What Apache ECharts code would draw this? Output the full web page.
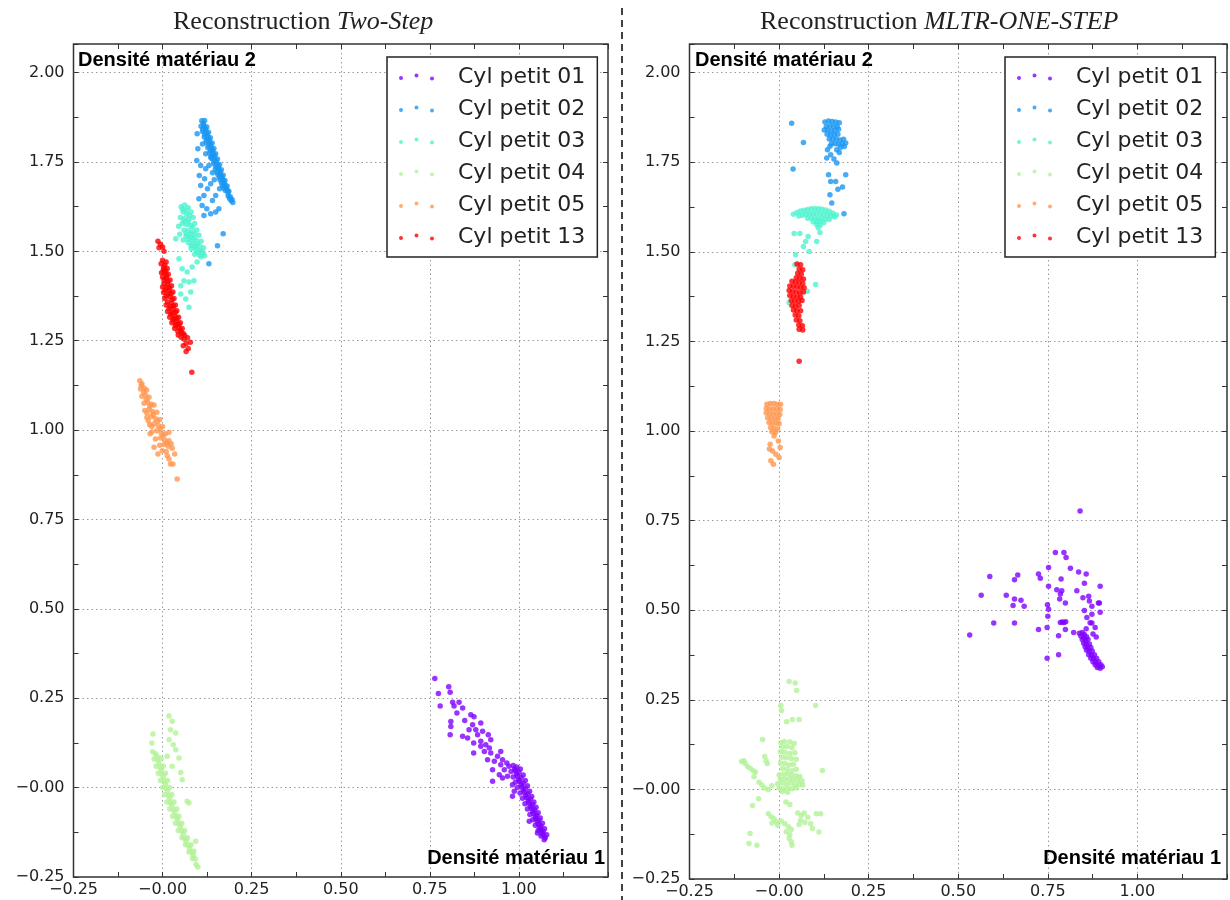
<!DOCTYPE html>
<html><head><meta charset="utf-8">
<script src="https://cdn.jsdelivr.net/npm/echarts@6/dist/echarts.min.js"></script>
<style>html,body{margin:0;padding:0;background:#fff}#c{width:1230px;height:900px}</style>
</head><body><div id="c"></div>
<script>
const seriesNames = ['Cyl petit 01','Cyl petit 02','Cyl petit 03','Cyl petit 04','Cyl petit 05','Cyl petit 13'];
const xTickLabels = ['\u22120.25','\u22120.00','0.25','0.50','0.75','1.00'];
const yTickLabels = ['\u22120.25','\u22120.00','0.25','0.50','0.75','1.00','1.25','1.50','1.75','2.00'];
const panelTitles = [['Reconstruction ','Two-Step'],['Reconstruction ','MLTR-ONE-STEP']];
const axisNames = ['Densité matériau 1','Densité matériau 2'];

// ---- Two-Step panel ----
const twoStep01 = [[0.764,0.305],[0.803,0.282],[0.774,0.263],[0.807,0.267],[0.779,0.228],[0.814,0.239],[0.832,0.239],[0.818,0.228],[0.842,0.223],[0.826,0.209],[0.865,0.204],[0.874,0.198],[0.848,0.188],[0.809,0.185],[0.809,0.171],[0.870,0.176],[0.893,0.181],[0.860,0.162],[0.879,0.162],[0.898,0.158],[0.842,0.144],[0.856,0.139],[0.807,0.148],[0.884,0.148],[0.914,0.148],[0.893,0.130],[0.921,0.134],[0.873,0.125],[0.907,0.120],[0.917,0.111],[0.893,0.116],[0.873,0.097],[0.903,0.101],[0.921,0.097],[0.949,0.101],[0.940,0.088],[0.912,0.078],[0.931,0.074],[0.954,0.078],[0.966,0.069],[0.949,0.064],[0.926,0.050],[0.959,0.050],[0.945,0.036],[0.968,0.032],[0.954,0.027],[0.926,0.018],[0.982,0.008],[0.987,-0.010],[0.982,-0.024],[1.029,-0.094],[1.052,-0.127],[1.071,-0.146],
 [0.972,0.060],[0.984,0.062],[0.994,0.058],[0.978,0.045],[0.990,0.047],[1.000,0.043],[0.984,0.030],[0.996,0.032],[1.006,0.028],[0.990,0.015],[1.002,0.017],[1.012,0.013],[0.996,0.000],[1.008,0.002],[1.018,-0.002],[1.003,-0.015],[1.015,-0.013],[1.025,-0.017],[1.010,-0.030],[1.022,-0.028],[1.032,-0.032],[1.017,-0.045],[1.028,-0.043],[1.038,-0.047],[1.024,-0.060],[1.035,-0.058],[1.044,-0.062],[1.031,-0.075],[1.041,-0.073],[1.050,-0.077],[1.039,-0.090],[1.048,-0.088],[1.056,-0.092],[1.046,-0.105],[1.055,-0.103],[1.062,-0.107],[1.054,-0.120],[1.062,-0.118],[1.068,-0.122],[1.062,-0.135],[1.069,-0.133],[1.074,-0.140],
 [0.988,0.052],[0.993,0.038],[0.999,0.022],[1.006,0.008],[1.012,-0.007],[1.019,-0.022],[1.026,-0.037],[1.032,-0.052],[1.039,-0.067],[1.046,-0.082],[1.052,-0.097],[1.058,-0.112],[1.065,-0.127],
 [1.004,0.052],[1.012,0.035],[1.018,0.020],[1.024,0.005],[1.030,-0.010],[1.036,-0.025],[1.042,-0.040],[1.048,-0.055],[1.054,-0.070],[1.060,-0.085],[1.066,-0.100],[1.072,-0.115],[1.078,-0.132]];
const twoStep02 = [[0.110,1.865],[0.118,1.866],[0.108,1.850],[0.116,1.852],[0.124,1.848],[0.112,1.835],[0.121,1.836],[0.129,1.833],[0.117,1.820],[0.126,1.821],[0.134,1.818],[0.122,1.805],[0.131,1.806],[0.139,1.803],[0.127,1.790],[0.136,1.791],[0.144,1.788],[0.132,1.775],[0.141,1.776],[0.149,1.773],[0.137,1.760],[0.146,1.761],[0.154,1.758],[0.143,1.745],[0.152,1.746],[0.160,1.743],[0.148,1.730],[0.157,1.731],[0.165,1.728],[0.155,1.715],[0.163,1.716],[0.170,1.713],[0.161,1.700],[0.169,1.701],[0.175,1.698],[0.168,1.685],[0.175,1.686],[0.181,1.683],[0.176,1.670],[0.182,1.671],[0.186,1.668],[0.184,1.655],[0.190,1.653],[0.192,1.642],[0.197,1.637],
 [0.114,1.858],[0.120,1.843],[0.125,1.828],[0.130,1.813],[0.135,1.798],[0.140,1.783],[0.145,1.768],[0.150,1.753],[0.156,1.738],[0.161,1.723],[0.166,1.708],[0.172,1.693],[0.178,1.678],[0.184,1.663],[0.188,1.648],[0.195,1.645],
 [0.113,1.842],[0.118,1.827],[0.123,1.812],[0.128,1.797],[0.134,1.782],[0.139,1.767],[0.144,1.752],[0.150,1.737],[0.153,1.722],[0.159,1.707],[0.165,1.692],[0.171,1.677],
 [0.097,1.829],[0.099,1.787],[0.096,1.754],[0.103,1.712],[0.107,1.684],[0.102,1.647],[0.116,1.656],[0.111,1.628],[0.124,1.619],[0.135,1.605],[0.149,1.610],[0.158,1.619],[0.116,1.600],[0.170,1.549],[0.154,1.516],[0.130,1.465],[0.140,1.642],[0.126,1.675],[0.118,1.703],[0.135,1.689],[0.149,1.656],[0.121,1.731],[0.130,1.740],[0.107,1.740],[0.121,1.773],[0.135,1.764],[0.112,1.800],[0.145,1.700],[0.160,1.675],[0.140,1.720]];
const twoStep03 = [[0.052,1.625],[0.062,1.630],[0.072,1.622],[0.058,1.610],[0.068,1.605],[0.080,1.610],[0.050,1.595],[0.062,1.592],[0.074,1.590],[0.086,1.595],[0.055,1.578],[0.067,1.575],[0.079,1.572],[0.090,1.578],[0.060,1.560],[0.072,1.558],[0.084,1.555],[0.096,1.560],[0.066,1.542],[0.078,1.540],[0.090,1.538],[0.102,1.545],[0.072,1.525],[0.085,1.522],[0.097,1.520],[0.108,1.528],[0.080,1.508],[0.092,1.505],[0.104,1.503],[0.115,1.510],[0.090,1.492],[0.103,1.490],[0.114,1.495],[0.045,1.570],[0.048,1.548],[0.058,1.532],[0.118,1.488],
 [0.056,1.618],[0.066,1.616],[0.076,1.600],[0.060,1.585],[0.072,1.582],[0.084,1.568],[0.066,1.550],[0.078,1.548],[0.090,1.548],[0.072,1.534],[0.084,1.532],[0.096,1.530],[0.080,1.516],[0.092,1.514],[0.104,1.515],[0.110,1.500],[0.097,1.497],[0.108,1.485],
 [0.037,1.535],[0.046,1.479],[0.055,1.451],[0.069,1.442],[0.083,1.456],[0.097,1.470],[0.088,1.418],[0.074,1.414],[0.060,1.418],[0.051,1.381],[0.079,1.386],[0.051,1.404],[0.065,1.367],[0.074,1.344]];
const twoStep04 = [[-0.028,0.100],[-0.020,0.095],[-0.024,0.080],[-0.014,0.078],[-0.004,0.082],[-0.018,0.060],[-0.008,0.058],[0.002,0.060],[-0.012,0.040],[-0.002,0.038],[0.008,0.040],[-0.006,0.020],[0.004,0.018],[0.014,0.020],[0.000,0.000],[0.010,-0.002],[0.020,0.000],[0.006,-0.020],[0.016,-0.022],[0.026,-0.020],[0.012,-0.040],[0.022,-0.042],[0.032,-0.040],[0.020,-0.060],[0.030,-0.062],[0.040,-0.060],[0.028,-0.080],[0.038,-0.082],[0.046,-0.080],[0.036,-0.100],[0.046,-0.102],[0.054,-0.100],[0.044,-0.120],[0.054,-0.122],[0.062,-0.120],[0.054,-0.140],[0.063,-0.142],[0.070,-0.140],[0.064,-0.160],[0.073,-0.162],[0.080,-0.160],[0.074,-0.180],[0.083,-0.182],[0.088,-0.178],[0.084,-0.198],[0.092,-0.200],[0.094,-0.215],[0.099,-0.222],
 [-0.016,0.088],[-0.010,0.068],[-0.004,0.050],[0.002,0.030],[0.008,0.010],[0.014,-0.010],[0.020,-0.030],[0.026,-0.050],[0.034,-0.070],[0.042,-0.090],[0.050,-0.110],[0.058,-0.130],[0.066,-0.150],[0.076,-0.170],[0.086,-0.190],
 [-0.027,0.150],[0.018,0.200],[0.027,0.186],[0.022,0.162],[0.037,0.153],[0.018,0.134],[0.037,0.106],[0.013,0.088],[0.046,0.083],[0.027,0.060],[0.055,0.022],[0.069,-0.038],[0.074,-0.043],[0.093,-0.150],[0.051,0.042],[-0.030,0.125],[0.030,0.120]];
const twoStep05 = [[-0.064,1.138],[-0.058,1.130],[-0.062,1.115],[-0.052,1.118],[-0.045,1.112],[-0.058,1.095],[-0.048,1.098],[-0.038,1.092],[-0.052,1.075],[-0.042,1.078],[-0.032,1.072],[-0.024,1.070],[-0.050,1.055],[-0.038,1.058],[-0.028,1.052],[-0.016,1.050],[-0.044,1.035],[-0.032,1.038],[-0.020,1.032],[-0.008,1.030],[-0.036,1.015],[-0.024,1.018],[-0.012,1.012],[0.000,1.010],[-0.030,0.995],[-0.016,0.998],[-0.004,0.992],[0.008,0.990],[0.018,0.994],[-0.020,0.975],[-0.006,0.978],[0.006,0.972],[0.018,0.970],[-0.008,0.958],[0.004,0.960],[0.016,0.955],[0.024,0.962],
 [-0.060,1.125],[-0.053,1.106],[-0.046,1.086],[-0.036,1.066],[-0.026,1.044],[-0.014,1.025],[-0.006,1.004],[0.002,0.984],[0.012,0.964],[-0.044,1.048],[-0.040,1.026],
 [-0.024,0.952],[-0.013,0.933],[-0.001,0.942],[0.013,0.928],[0.027,0.949],[0.034,0.933],[0.018,0.919],[0.022,0.905],[0.029,0.905],[0.041,0.863],[-0.035,0.990],[-0.030,1.010],[0.010,0.940]];
const twoStep13 = [[-0.013,1.528],[-0.006,1.520],[0.000,1.512],[-0.010,1.510],[0.004,1.500],
 [0.000,1.475],[0.010,1.470],[0.003,1.455],[0.013,1.452],[0.005,1.440],[0.016,1.436],[0.000,1.428],[0.010,1.425],[0.021,1.420],[0.004,1.410],[0.014,1.408],[0.025,1.404],[0.007,1.392],[0.018,1.390],[0.029,1.386],[0.010,1.375],[0.021,1.372],[0.032,1.368],[0.014,1.358],[0.025,1.355],[0.036,1.350],[0.018,1.340],[0.029,1.338],[0.040,1.334],[0.023,1.324],[0.034,1.320],[0.045,1.316],[0.029,1.308],[0.040,1.304],[0.050,1.300],[0.036,1.292],[0.046,1.288],[0.055,1.284],[0.043,1.276],[0.053,1.272],[0.062,1.265],
 [0.006,1.462],[0.009,1.446],[0.011,1.432],[0.015,1.416],[0.020,1.398],[0.024,1.382],[0.027,1.365],[0.031,1.347],[0.036,1.330],[0.040,1.313],[0.046,1.296],[0.050,1.281],[0.058,1.270],
 [-0.004,1.465],[0.002,1.448],[-0.003,1.440],[0.004,1.420],[0.000,1.400],[0.011,1.398],[0.003,1.385],[0.016,1.381],[0.006,1.368],[0.010,1.350],[0.022,1.346],[0.014,1.332],[0.026,1.328],[0.020,1.316],[0.032,1.312],[0.026,1.300],[0.038,1.296],[0.034,1.284],[0.044,1.266],[0.052,1.260],
 [0.060,1.255],[0.070,1.258],[0.066,1.242],[0.078,1.246],[0.058,1.236],[0.072,1.228],[0.066,1.220],[0.082,1.162]];

// ---- MLTR-ONE-STEP panel ----
const oneStep01 = [[0.840,0.777],[0.771,0.661],[0.795,0.661],[0.801,0.647],[0.752,0.619],[0.813,0.617],[0.836,0.607],[0.857,0.601],[0.724,0.601],[0.588,0.594],[0.666,0.598],[0.729,0.589],[0.657,0.585],[0.787,0.587],[0.852,0.575],[0.896,0.567],[0.752,0.567],[0.775,0.557],[0.789,0.554],[0.831,0.554],[0.564,0.542],[0.634,0.542],[0.785,0.545],[0.864,0.539],[0.848,0.535],[0.657,0.531],[0.675,0.528],[0.783,0.531],[0.866,0.526],[0.799,0.520],[0.891,0.520],[0.653,0.513],[0.684,0.511],[0.749,0.515],[0.873,0.511],[0.852,0.499],[0.752,0.503],[0.896,0.494],[0.873,0.489],[0.750,0.483],[0.859,0.480],[0.599,0.464],[0.657,0.464],[0.785,0.466],[0.790,0.467],[0.795,0.466],[0.800,0.468],[0.873,0.464],[0.882,0.452],[0.724,0.446],[0.748,0.452],[0.799,0.446],[0.857,0.448],[0.532,0.431],[0.780,0.429],[0.822,0.438],[0.876,0.434],[0.780,0.376],[0.748,0.366],[0.894,0.520],[0.868,0.465],[0.885,0.425],
 [0.838,0.436],[0.846,0.438],[0.852,0.432],[0.842,0.428],[0.850,0.424],[0.858,0.426],[0.846,0.418],[0.855,0.414],[0.862,0.418],[0.850,0.408],[0.858,0.404],[0.866,0.406],[0.854,0.398],[0.862,0.394],[0.870,0.396],[0.858,0.388],[0.866,0.384],[0.874,0.386],[0.864,0.376],[0.872,0.374],[0.880,0.376],[0.870,0.366],[0.878,0.364],[0.886,0.366],[0.876,0.356],[0.884,0.354],[0.892,0.356],[0.882,0.348],[0.890,0.346],[0.898,0.348],[0.888,0.340],[0.896,0.338],[0.902,0.342]];
const oneStep02 = [[0.128,1.862],[0.138,1.865],[0.148,1.864],[0.158,1.862],[0.168,1.860],[0.132,1.850],[0.142,1.852],[0.152,1.850],[0.162,1.850],[0.126,1.840],[0.136,1.840],[0.146,1.838],[0.156,1.838],[0.166,1.842],[0.134,1.828],[0.144,1.826],[0.154,1.826],[0.164,1.828],[0.140,1.815],[0.150,1.814],[0.160,1.814],[0.170,1.812],[0.180,1.814],[0.146,1.802],[0.156,1.802],[0.166,1.800],[0.176,1.802],[0.186,1.804],[0.172,1.792],[0.182,1.794],[0.142,1.795],
 [0.035,1.859],[0.068,1.805],[0.039,1.731],[0.138,1.715],[0.186,1.715],[0.144,1.696],[0.158,1.696],[0.177,1.681],[0.164,1.675],[0.142,1.659],[0.147,1.636],[0.181,1.606],[0.135,1.785],[0.144,1.771],[0.161,1.785],[0.168,1.777],[0.153,1.759],[0.161,1.748],[0.133,1.762]];
const oneStep03 = [[0.040,1.605],[0.050,1.610],[0.060,1.614],[0.070,1.616],[0.080,1.618],[0.090,1.620],[0.100,1.620],[0.110,1.620],[0.120,1.619],[0.130,1.617],[0.140,1.613],[0.150,1.608],[0.160,1.603],[0.055,1.600],[0.065,1.602],[0.075,1.604],[0.085,1.606],[0.095,1.607],[0.105,1.608],[0.115,1.607],[0.125,1.605],[0.135,1.603],[0.145,1.600],[0.155,1.597],[0.080,1.594],[0.090,1.594],[0.100,1.595],[0.110,1.594],[0.120,1.594],[0.130,1.592],[0.140,1.590],[0.095,1.584],[0.105,1.585],[0.115,1.584],[0.125,1.582],[0.105,1.576],[0.115,1.575],
 [0.042,1.551],[0.058,1.551],[0.081,1.543],[0.074,1.529],[0.109,1.567],[0.114,1.554],[0.105,1.529],[0.068,1.515],[0.084,1.501],[0.046,1.492],[0.044,1.464],[0.102,1.409],[0.079,1.390],[0.028,1.358]];
const oneStep04 = [[0.028,0.301],[0.045,0.297],[0.049,0.276],[0.005,0.234],[0.007,0.220],[0.102,0.234],[0.021,0.189],[0.037,0.195],[0.056,0.195],[-0.046,0.139],
 [0.005,0.130],[0.015,0.134],[0.030,0.132],[0.042,0.128],[0.010,0.118],[0.022,0.120],[0.036,0.116],[0.004,0.105],[0.016,0.104],[0.030,0.100],[0.044,0.102],[0.008,0.090],[0.020,0.088],[0.034,0.086],[0.048,0.084],[0.004,0.074],[0.016,0.072],[0.028,0.068],[0.040,0.070],[0.010,0.058],[0.022,0.056],[0.036,0.052],[0.048,0.056],
 [0.000,0.040],[0.012,0.042],[0.024,0.044],[0.036,0.040],[0.048,0.038],[0.058,0.036],[0.004,0.028],[0.016,0.030],[0.028,0.030],[0.040,0.028],[0.052,0.026],[0.064,0.024],[-0.004,0.016],[0.008,0.018],[0.020,0.016],[0.032,0.018],[0.044,0.014],[0.056,0.014],[0.066,0.012],[0.000,0.004],[0.012,0.002],[0.024,0.004],[0.036,0.002],[0.048,0.004],[0.010,-0.006],[0.024,-0.008],
 [-0.105,0.078],[-0.095,0.072],[-0.088,0.064],[-0.080,0.058],[-0.072,0.052],[-0.098,0.080],[-0.066,0.048],[-0.040,0.092],[-0.036,0.080],[-0.033,0.072],[-0.070,0.035],[-0.056,0.020],[-0.048,0.012],[-0.040,0.004],[-0.030,0.000],[-0.020,0.010],
 [0.121,0.053],[-0.057,-0.026],[-0.074,-0.045],[0.019,-0.035],[0.030,-0.042],
 [-0.030,-0.068],[-0.022,-0.076],[-0.014,-0.082],[-0.008,-0.090],[-0.020,-0.094],[-0.004,-0.100],
 [0.006,-0.088],[0.016,-0.096],[0.026,-0.104],[0.034,-0.112],[0.020,-0.118],[0.030,-0.126],[0.028,-0.136],[0.034,-0.146],[0.036,-0.156],
 [0.052,-0.066],[0.062,-0.072],[0.070,-0.066],[0.080,-0.078],[0.060,-0.086],[0.072,-0.092],[0.088,-0.096],[0.056,-0.098],[0.104,-0.068],[0.116,-0.068],[0.093,-0.109],[0.111,-0.119],
 [-0.081,-0.123],[-0.084,-0.151],[-0.062,-0.156]];
const oneStep05 = [[-0.034,1.075],[-0.024,1.077],[-0.014,1.077],[-0.004,1.075],[0.004,1.075],[-0.036,1.063],[-0.026,1.062],[-0.016,1.062],[-0.006,1.062],[0.003,1.060],[-0.036,1.050],[-0.026,1.049],[-0.016,1.048],[-0.006,1.048],[0.002,1.046],[-0.032,1.037],[-0.022,1.036],[-0.012,1.035],[-0.003,1.034],[-0.028,1.024],[-0.018,1.022],[-0.008,1.022],[0.000,1.020],[-0.024,1.010],[-0.014,1.008],[-0.004,1.006],[-0.020,0.998],[-0.010,0.996],
 [-0.014,0.986],[-0.002,0.972],[-0.025,0.963],[0.003,0.954],[-0.018,0.944],[-0.009,0.935],[0.000,0.926],[-0.023,0.917],[-0.016,0.907],[-0.027,0.950]];
const oneStep13 = [[0.050,1.466],[0.060,1.464],[0.056,1.452],[0.066,1.450],[0.052,1.440],[0.062,1.438],[0.048,1.428],[0.058,1.426],[0.068,1.424],[0.036,1.418],[0.046,1.416],[0.056,1.414],[0.066,1.412],[0.030,1.405],[0.040,1.404],[0.050,1.402],[0.060,1.400],[0.070,1.400],[0.028,1.392],[0.038,1.390],[0.048,1.388],[0.058,1.386],[0.068,1.388],[0.030,1.378],[0.040,1.376],[0.050,1.374],[0.060,1.374],[0.034,1.364],[0.044,1.362],[0.054,1.362],[0.064,1.364],[0.036,1.350],[0.046,1.348],[0.056,1.350],[0.040,1.338],[0.050,1.336],[0.060,1.336],[0.045,1.324],[0.055,1.322],[0.048,1.310],[0.058,1.308],[0.055,1.296],[0.065,1.294],[0.056,1.284],[0.066,1.282],[0.056,1.195]];

const colors = ['#8000ff','#1996f3','#4df3ce','#b2f396','#ff964f','#ff0000'];
const panels = [[twoStep01,twoStep02,twoStep03,twoStep04,twoStep05,twoStep13],[oneStep01,oneStep02,oneStep03,oneStep04,oneStep05,oneStep13]];

function tickFmt(labels){
  return function(v){ const k=(v+0.25)/0.25, i=Math.round(k); return (Math.abs(k-i)<1e-6 && labels[i]!==undefined) ? labels[i] : ''; };
}
const gridBoxes = [{left:73.5, top:44, width:534.5, height:833},{left:689.5, top:44, width:537.5, height:836}];
const tickStyle = {color:'#333', width:1};
function makeAxis(kind, g, pos, primary){
  return {
    type:'value', gridIndex:g, position:pos, min:-0.25, max: kind==='x'?1.25:2.08, interval:0.25,
    axisLine:{show:false, onZero:false},
    axisTick:{show:true, inside:true, length:5, lineStyle:tickStyle},
    minorTick:{show:true, splitNumber:2, length:5, lineStyle:tickStyle},
    axisLabel:{show:primary, formatter:tickFmt(kind==='x'?xTickLabels:yTickLabels), color:'#222', fontFamily:'DejaVu Sans', fontSize:16, margin: kind==='x'?5:9, showMaxLabel:false},
    splitLine:{show:primary, showMinLine:false, showMaxLine:false, lineStyle:{color:'#9a9a9a', width:1, type:[1.5,3]}}
  };
}
const xAxes=[], yAxes=[];
[0,1].forEach(g=>{
  xAxes.push(makeAxis('x',g,'bottom',true), makeAxis('x',g,'top',false));
  yAxes.push(makeAxis('y',g,'left',true), makeAxis('y',g,'right',false));
});
const series=[];
panels.forEach((set,g)=>set.forEach((d,i)=>series.push({
  type:'scatter', name:seriesNames[i], xAxisIndex:g*2, yAxisIndex:g*2, data:d,
  symbol:'circle', symbolSize:5.5, itemStyle:{color:colors[i], opacity:0.8}, z:2+i, emphasis:{disabled:true}, silent:true
})));
const dots = 'path://M0,4.5a2,2 0 1,0 4,0a2,2 0 1,0 -4,0Z M15.5,2a2,2 0 1,0 4,0a2,2 0 1,0 -4,0Z M31,5a2,2 0 1,0 4,0a2,2 0 1,0 -4,0Z';
const option = {
  animation:false, backgroundColor:'#fff',
  title:[0,1].map(g=>({
    text:'{a|'+panelTitles[g][0]+'}{b|'+panelTitles[g][1]+'}', left: g?760:173, top:9, padding:0,
    textStyle:{fontWeight:'normal', rich:{a:{fontFamily:'Liberation Serif', fontWeight:'normal', fontSize:26, color:'#222'}, b:{fontFamily:'Liberation Serif', fontStyle:'italic', fontWeight:'normal', fontSize:26, color:'#222'}}}
  })),
  grid: gridBoxes.map(b=>Object.assign({show:true, borderColor:'#333', borderWidth:1.5, backgroundColor:'transparent', containLabel:false}, b)),
  xAxis:xAxes, yAxis:yAxes,
  legend:[0,1].map(g=>({
    data:seriesNames, orient:'vertical', left: g?1005:387, top:57, icon:dots, itemWidth:35, itemHeight:7, itemGap:8,
    padding:[8,12,8,12], borderColor:'#222', borderWidth:1.5, backgroundColor:'#fff', selectedMode:false, z:10,
    itemStyle:{opacity:0.8},
    textStyle:{fontFamily:'DejaVu Sans', fontSize:22, color:'#222', lineHeight:24, padding:[0,0,0,19]}
  })),
  graphic:[
    {type:'line', shape:{x1:622,y1:8,x2:622,y2:900}, style:{stroke:'#000', lineWidth:1.5, lineDash:[7,5]}, z:20},
    {type:'text', x:78, y:60, style:{text:axisNames[1], font:'bold 20px "Liberation Sans"', fill:'#000', verticalAlign:'middle'}, z:20},
    {type:'text', x:695, y:60, style:{text:axisNames[1], font:'bold 20px "Liberation Sans"', fill:'#000', verticalAlign:'middle'}, z:20},
    {type:'text', x:605, y:858, style:{text:axisNames[0], font:'bold 20px "Liberation Sans"', fill:'#000', align:'right', verticalAlign:'middle'}, z:20},
    {type:'text', x:1221, y:858, style:{text:axisNames[0], font:'bold 20px "Liberation Sans"', fill:'#000', align:'right', verticalAlign:'middle'}, z:20}
  ],
  series:series
};
const chart = echarts.init(document.getElementById('c'));
chart.setOption(option);
</script>
</body></html>
